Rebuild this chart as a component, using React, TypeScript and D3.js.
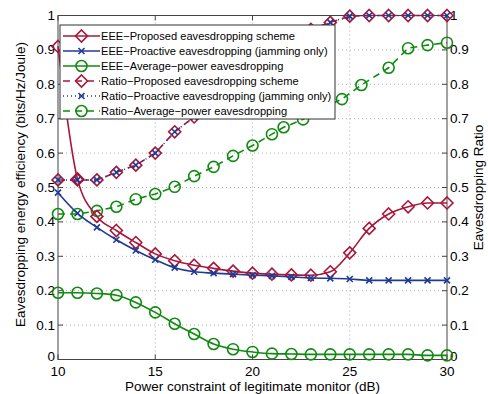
import { useEffect, useRef } from "react";
import * as d3 from "d3";

// x positions (dB)
const power = [10, 11, 12, 13, 14, 15, 16, 17, 18, 19, 20, 21, 22, 23, 24, 25, 26, 27, 28, 29, 30];

// left axis: eavesdropping energy efficiency
const eeeProposed = [0.91, 0.525, 0.416, 0.375, 0.34, 0.307, 0.287, 0.274, 0.265, 0.257, 0.251, 0.248, 0.246, 0.245, 0.255, 0.31, 0.381, 0.423, 0.444, 0.455, 0.455];
const eeeProactive = [0.485, 0.425, 0.384, 0.348, 0.317, 0.29, 0.267, 0.255, 0.251, 0.248, 0.245, 0.243, 0.24, 0.237, 0.236, 0.234, 0.23, 0.23, 0.23, 0.23, 0.23];
const eeeAverage = [0.194, 0.194, 0.192, 0.187, 0.166, 0.137, 0.104, 0.074, 0.045, 0.03, 0.022, 0.017, 0.016, 0.015, 0.015, 0.015, 0.015, 0.015, 0.015, 0.012, 0.012];

// right axis: eavesdropping ratio
const ratioProposed = [0.522, 0.522, 0.522, 0.544, 0.565, 0.6, 0.662, 0.705, 0.75, 0.8, 0.85, 0.89, 0.93, 0.96, 0.98, 0.998, 1, 1, 1, 1, 1];
const ratioProactive = [0.522, 0.522, 0.522, 0.544, 0.565, 0.6, 0.662, 0.705, 0.75, 0.8, 0.85, 0.89, 0.93, 0.96, 0.98, 0.998, 1, 1, 1, 1, 1];
const ratioAvgPower = [10, 11, 12, 13, 14, 15, 16, 17, 18, 19, 20, 21, 21.6, 22.6, 23.6, 24.6, 25.6, 27, 28, 29, 30];
const ratioAverage = [0.423, 0.423, 0.432, 0.444, 0.466, 0.481, 0.502, 0.533, 0.56, 0.592, 0.622, 0.655, 0.675, 0.698, 0.73, 0.757, 0.798, 0.848, 0.905, 0.914, 0.921];

const xTicks = [10, 15, 20, 25, 30];
const yTicks = [0, 0.1, 0.2, 0.3, 0.4, 0.5, 0.6, 0.7, 0.8, 0.9, 1];

const legendLabels = [
  "EEE\u2212Proposed eavesdropping scheme",
  "EEE\u2212Proactive eavesdropping (jamming only)",
  "EEE\u2212Average\u2212power eavesdropping",
  "Ratio\u2212Proposed eavesdropping scheme",
  "Ratio\u2212Proactive eavesdropping (jamming only)",
  "Ratio\u2212Average\u2212power eavesdropping",
];

const RED = "#a8173a";
const BLUE = "#1f3a93";
const GREEN = "#128a12";
const FONT = "'Liberation Sans', Arial, sans-serif";

const App = () => {
  const svgRef = useRef<SVGSVGElement>(null);
  const width = 488;
  const height = 394;
  const margin = { left: 58, right: 41, top: 15.5, bottom: 34.5 };

  useEffect(() => {
    const svg = d3.select(svgRef.current);
    svg.selectAll("*").remove();

    const x = d3.scaleLinear().domain([10, 30]).range([margin.left, width - margin.right]);
    const y = d3.scaleLinear().domain([0, 1]).range([height - margin.bottom, margin.top]);
    const [x0, x1] = x.range();
    const [y0, y1] = y.range();

    svg.append("rect").attr("width", width).attr("height", height).attr("fill", "#fff");

    // grid
    const grid = svg.append("g").attr("stroke", "#9a9a9a").attr("stroke-width", 0.8).attr("stroke-dasharray", "1,3");
    grid.selectAll(".gx").data(xTicks.slice(1, -1)).enter().append("line")
      .attr("x1", (d) => x(d)).attr("x2", (d) => x(d)).attr("y1", y0).attr("y2", y1);
    grid.selectAll(".gy").data(yTicks.slice(1, -1)).enter().append("line")
      .attr("y1", (d) => y(d)).attr("y2", (d) => y(d)).attr("x1", x0).attr("x2", x1);

    // axes box, inward ticks on all sides
    const tickLen = 5;
    const axes = svg.append("g").attr("stroke", "#444").attr("stroke-width", 1);
    axes.append("rect").attr("x", x0).attr("y", y1).attr("width", x1 - x0).attr("height", y0 - y1).attr("fill", "none");
    xTicks.forEach((t) => {
      axes.append("line").attr("x1", x(t)).attr("x2", x(t)).attr("y1", y0).attr("y2", y0 - tickLen);
      axes.append("line").attr("x1", x(t)).attr("x2", x(t)).attr("y1", y1).attr("y2", y1 + tickLen);
    });
    yTicks.forEach((t) => {
      axes.append("line").attr("x1", x0).attr("x2", x0 + tickLen).attr("y1", y(t)).attr("y2", y(t));
      axes.append("line").attr("x1", x1).attr("x2", x1 - tickLen).attr("y1", y(t)).attr("y2", y(t));
    });

    const labels = svg.append("g").attr("font-family", FONT).attr("font-size", 13.5).attr("fill", "#000");
    xTicks.forEach((t) => {
      labels.append("text").attr("x", x(t)).attr("y", y0 + 16.5).attr("text-anchor", "middle").text(t);
    });
    // the 0 labels sit a little higher, clear of the x tick labels
    const yLabelY = (t: number) => y(t) + (t === 0 ? 1 : 4.5);
    yTicks.forEach((t) => {
      labels.append("text").attr("x", x0 - 3).attr("y", yLabelY(t)).attr("text-anchor", "end").text(t);
      labels.append("text").attr("x", x1 + 3).attr("y", yLabelY(t)).attr("text-anchor", "start").text(t);
    });
    labels.append("text").attr("x", (x0 + x1) / 2).attr("y", y0 + 31.5).attr("text-anchor", "middle")
      .text("Power constraint of legitimate monitor (dB)");
    labels.append("text").attr("transform", `translate(25, ${(y0 + y1) / 2 - 3}) rotate(-90)`).attr("text-anchor", "middle")
      .text("Eavesdropping energy efficiency (bits/Hz/Joule)");
    labels.append("text").attr("transform", `translate(483, ${(y0 + y1) / 2}) rotate(-90)`).attr("text-anchor", "middle")
      .text("Eavesdropping Ratio");

    // markers
    const drawMarker = (g: any, kind: string, cx: number, cy: number, color: string) => {
      if (kind === "diamond") {
        const s = 6;
        g.append("path").attr("d", `M${cx},${cy - s}L${cx + s},${cy}L${cx},${cy + s}L${cx - s},${cy}Z`)
          .attr("fill", "none").attr("stroke", color).attr("stroke-width", 1.6);
      } else if (kind === "x") {
        const s = 3;
        g.append("path").attr("d", `M${cx - s},${cy - s}L${cx + s},${cy + s}M${cx - s},${cy + s}L${cx + s},${cy - s}`)
          .attr("stroke", color).attr("stroke-width", 1.6);
      } else {
        g.append("circle").attr("cx", cx).attr("cy", cy).attr("r", 5.5)
          .attr("fill", "none").attr("stroke", color).attr("stroke-width", 1.6);
      }
    };

    const plot = svg.append("g");
    const drawSeries = (xs: number[], ys: number[], color: string, dash: string | null, kind: string, curve: any) => {
      const line = d3.line<number>().x((_, i) => x(xs[i])).y((d) => y(d)).curve(curve);
      const path = plot.append("path").attr("d", line(ys)).attr("fill", "none").attr("stroke", color).attr("stroke-width", 1.6);
      if (dash) path.attr("stroke-dasharray", dash);
      const mg = plot.append("g");
      ys.forEach((v, i) => drawMarker(mg, kind, x(xs[i]), y(v), color));
    };

    drawSeries(power, eeeAverage, GREEN, null, "circle", d3.curveMonotoneX);
    drawSeries(ratioAvgPower, ratioAverage, GREEN, "7,5", "circle", d3.curveLinear);
    drawSeries(power, eeeProposed, RED, null, "diamond", d3.curveMonotoneX);
    drawSeries(power, eeeProactive, BLUE, null, "x", d3.curveMonotoneX);
    drawSeries(power, ratioProposed, RED, "7,5", "diamond", d3.curveLinear);
    drawSeries(power, ratioProactive, BLUE, "1,3", "x", d3.curveLinear);

    // legend
    const lg = svg.append("g");
    const lx = 60, ly = 25, lw = 275, lh = 94;
    lg.append("rect").attr("x", lx).attr("y", ly).attr("width", lw).attr("height", lh)
      .attr("fill", "#fff").attr("stroke", "#333").attr("stroke-width", 1);
    const entries = [
      { color: RED, dash: null, kind: "diamond" },
      { color: BLUE, dash: null, kind: "x" },
      { color: GREEN, dash: null, kind: "circle" },
      { color: RED, dash: "7,5", kind: "diamond" },
      { color: BLUE, dash: "1,3", kind: "x" },
      { color: GREEN, dash: "7,5", kind: "circle" },
    ];
    entries.forEach((e, i) => {
      const cy = ly + 11 + i * 15;
      const l = lg.append("line").attr("x1", lx + 3).attr("x2", lx + 40).attr("y1", cy).attr("y2", cy)
        .attr("stroke", e.color).attr("stroke-width", 1.6);
      if (e.dash) l.attr("stroke-dasharray", e.dash);
      drawMarker(lg, e.kind, lx + 21.5, cy, e.color);
      lg.append("text").attr("x", lx + 41).attr("y", cy + 4).attr("font-family", FONT).attr("font-size", 11.1)
        .attr("fill", "#000").text(legendLabels[i]);
    });
  }, []);

  return <svg ref={svgRef} width={width} height={height} style={{ position: "absolute", left: 0, top: 0 }} />;
};

export default App;
